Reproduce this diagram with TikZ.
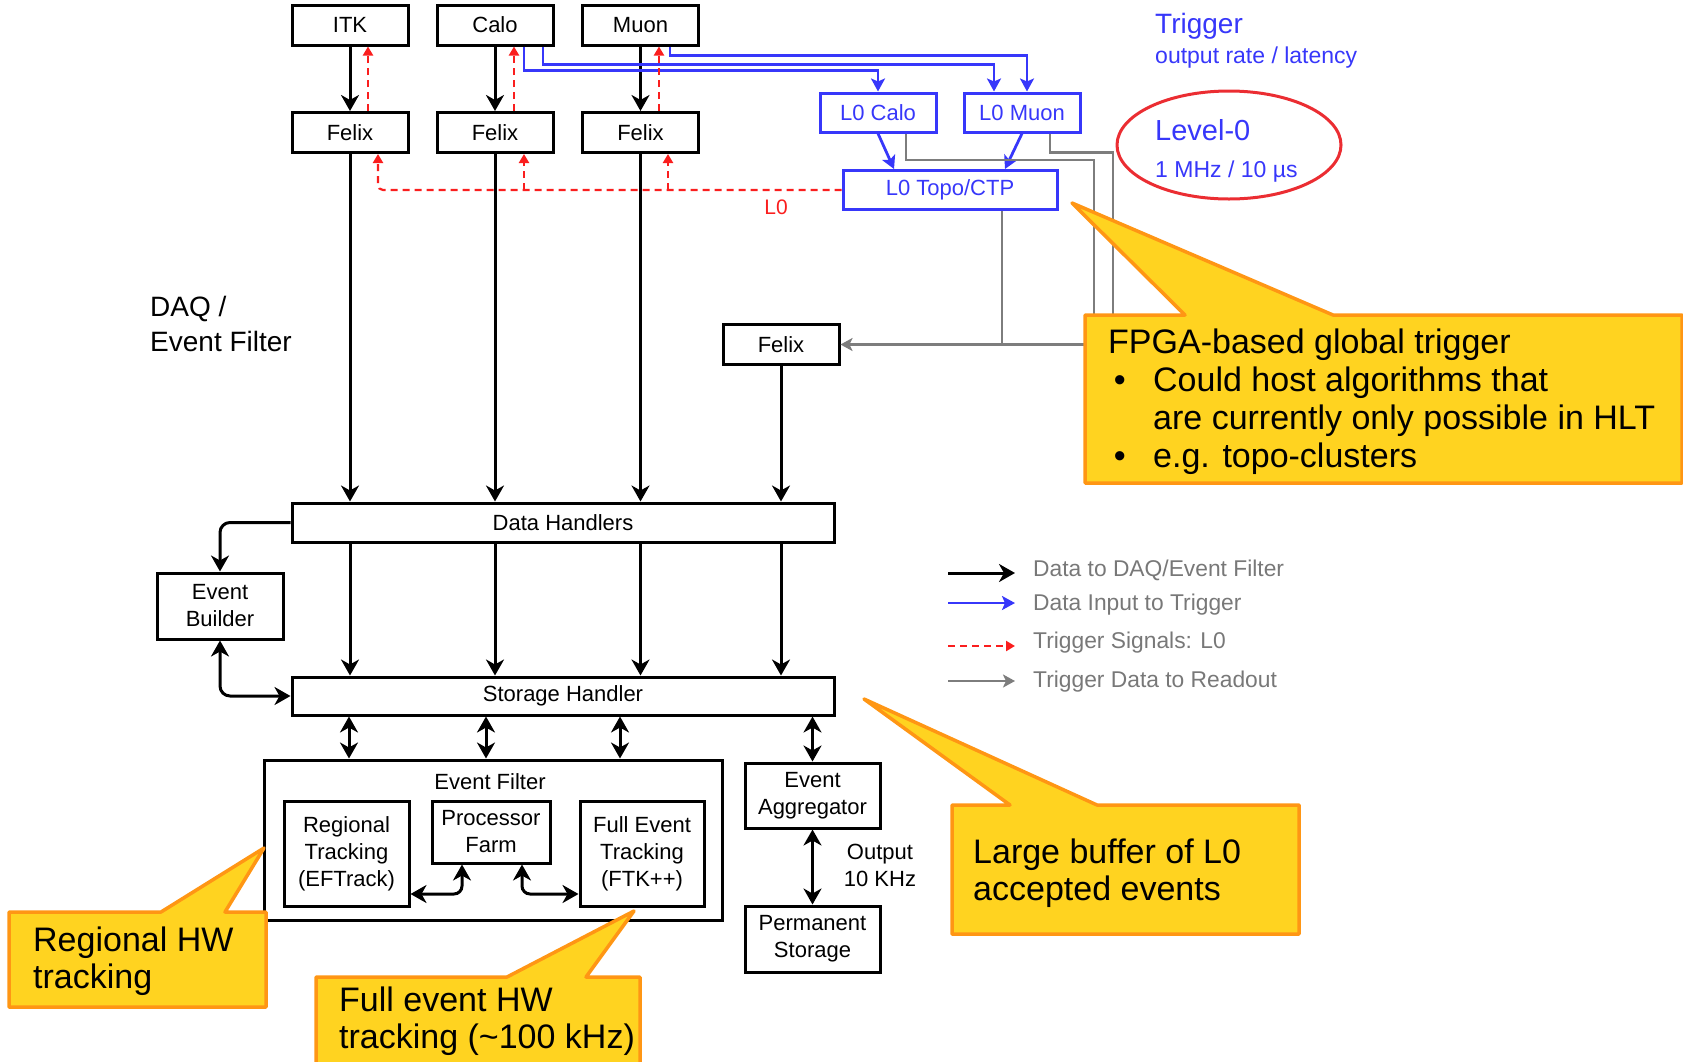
\documentclass[tikz,border=0pt]{standalone}
\usepackage{fontspec}
\setmainfont{Liberation Sans}
\usetikzlibrary{arrows.meta}

\definecolor{trgblue}{RGB}{55,55,250}
\definecolor{sigred}{RGB}{250,30,30}
\definecolor{rdgray}{RGB}{125,125,125}
\definecolor{legray}{RGB}{120,120,120}
\definecolor{callfill}{RGB}{255,211,32}
\definecolor{callline}{RGB}{255,150,20}
\definecolor{ringred}{RGB}{235,45,50}

\newcommand\bxfont{\fontsize{22}{27}\selectfont}
\newcommand\cofont{\fontsize{34}{37}\selectfont}

\tikzset{
  blk/.style={draw, line width=3pt, inner sep=0pt, align=center, font=\bxfont},
  det/.style={blk, minimum width=116pt, minimum height=40pt},
  trg/.style={draw=trgblue, text=trgblue, line width=3pt, inner sep=0pt, minimum height=39pt, font=\bxfont},
  daq/.style={line width=3pt, >={Stealth[length=16pt,width=18pt,inset=5pt]}, ->},
  daqboth/.style={daq, <->},
  feed/.style={trgblue, line width=2.8pt, >={Stealth[length=13pt,width=14pt,inset=3pt]}, ->},
  l0sig/.style={sigred, line width=2.2pt, dash pattern=on 7pt off 5pt, >={Triangle[length=9pt,width=10pt]}, ->},
  rdline/.style={rdgray, line width=2.2pt},
  rdout/.style={rdline, >={Stealth[length=12pt,width=13pt,inset=3pt]}, ->},
  callout/.style={fill=callfill, draw=callline, line width=3.5pt, line join=round},
  cotext/.style={font=\cofont, align=left, inner sep=0pt, anchor=base west},
  legtext/.style={font=\fontsize{22.8}{26}\selectfont, text=legray, inner sep=0pt, anchor=base west},
  lbl/.style={inner sep=0pt, anchor=base west},
}

\begin{document}
\begin{tikzpicture}[x=1pt,y=-1pt]  % ------ TDAQ Phase-II -----------------------------
\useasboundingbox (0,0) rectangle (1683,1061);
\clip (0,0) rectangle (1683,1061);

    \node[det] (itk)  at (350,25)   {ITK};
    \node[det] (calo) at (495,25)   {Calo};
    \node[det] (muon) at (640.5,25) {Muon};
    \node[det] (felixI) at (350,132.5)   {Felix};
    \node[det] (felixC) at (495,132.5)   {Felix};
    \node[det] (felixM) at (640.5,132.5) {Felix};
    \node[det] (felixR) at (781,344.5)   {Felix};

    \node[trg, minimum width=116pt] (l0calo) at (878,112.5)  {L0 Calo};
    \node[trg, minimum width=116pt] (l0muon) at (1022,112.5) {L0 Muon};
    \node[trg, minimum width=214pt] (topo)   at (950,190)    {L0 Topo/CTP};

    \node[blk, minimum width=542pt, minimum height=39pt] (dh) at (563,522.5) {Data Handlers};
    \node[blk, minimum width=542pt, minimum height=38pt] (sh) at (563,696)   {Storage Handler};
    \node[blk, minimum width=126pt, minimum height=66pt] (evb) at (220,606)  {Event\\Builder};

    \node[blk, minimum width=458pt, minimum height=160pt] (ef) at (493,840) {};
    \node[font=\bxfont] (eflbl) at (490,782) {Event Filter};
    \node[blk, minimum width=125pt, minimum height=105pt] (reg)  at (346.5,853.5) {Regional\\Tracking\\(EFTrack)};
    \node[blk, minimum width=118pt, minimum height=62pt]  (farm) at (491,832)     {Processor\\Farm};
    \node[blk, minimum width=124pt, minimum height=105pt] (fet)  at (642,853.5)   {Full Event\\Tracking\\(FTK++)};
    \node[blk, minimum width=135pt, minimum height=65pt]  (agg)  at (812.5,795.5) {Event\\Aggregator};
    \node[blk, minimum width=135pt, minimum height=66pt]  (perm) at (812.5,939)   {Permanent\\Storage};
    \node[font=\bxfont, align=center] (outlbl) at (880,865) {Output\\10 KHz};

% readout path
    \draw[daq] (itk) -- (felixI); \draw[daq] (calo) -- (felixC); \draw[daq] (muon) -- (felixM);
    \draw[daq] (felixI) -- (felixI |- dh.north); \draw[daq] (felixC) -- (felixC |- dh.north);
    \draw[daq] (felixM) -- (felixM |- dh.north); \draw[daq] (felixR) -- (felixR |- dh.north);
    \draw[daq] (dh.south -| felixI) -- (sh.north -| felixI); \draw[daq] (dh.south -| felixC) -- (sh.north -| felixC);
    \draw[daq] (dh.south -| felixM) -- (sh.north -| felixM); \draw[daq] (dh.south -| felixR) -- (sh.north -| felixR);

    \coordinate (colA) at (349,0);
    \coordinate (colB) at (486,0);
    \coordinate (colC) at (620,0);
    \draw[daqboth] (sh.south -| colA) -- (ef.north -| colA); \draw[daqboth] (sh.south -| colB) -- (ef.north -| colB);
    \draw[daqboth] (sh.south -| colC) -- (ef.north -| colC); \draw[daqboth] (sh.south -| agg) -- (agg);
    \draw[daqboth] (agg) -- (perm);

    \draw[daq, rounded corners=10pt] (dh.west) -| (evb.north);
    \draw[daqboth, rounded corners=10pt] (evb.south) |- (sh.west);
    \draw[daqboth, rounded corners=8pt] ([yshift=-40.5pt]reg.east) -| ([xshift=-29pt]farm.south);
    \draw[daqboth, rounded corners=8pt] ([xshift=31pt]farm.south) |- ([yshift=-40.5pt]fet.west);

% trigger inputs
    \draw[feed] ([xshift=29pt]calo.south) -- ++(0,24) -| (l0calo.north);
    \draw[feed] ([xshift=48pt]calo.south) -- ++(0,18) -| ([xshift=-28pt]l0muon.north);
    \draw[feed] ([xshift=29.5pt]muon.south) -- ++(0,9) -| ([xshift=5pt]l0muon.north);
    \draw[feed] (l0calo.south) -- ([xshift=-56pt]topo.north);
    \draw[feed] (l0muon.south) -- ([xshift=55pt]topo.north);

% L0 accept
    \coordinate (l0I) at (378,0);
    \coordinate (l0C) at (524,0);
    \coordinate (l0M) at (668,0);
    \draw[l0sig, rounded corners=5pt] (topo.west) -| (felixI.south -| l0I);
    \draw[l0sig] (topo.west -| l0C) -- (felixC.south -| l0C);
    \draw[l0sig] (topo.west -| l0M) -- (felixM.south -| l0M);
    \draw[l0sig] ([xshift=18pt]felixI.north) -- ([xshift=18pt]itk.south);
    \draw[l0sig] ([xshift=19pt]felixC.north) -- ([xshift=19pt]calo.south);
    \draw[l0sig] ([xshift=18.5pt]felixM.north) -- ([xshift=18.5pt]muon.south);
    \node[text=sigred, font=\fontsize{21}{24}\selectfont] (l0lbl) at (776,207) {L0};

% trigger data to readout
    \coordinate (rbus) at (1113,344.5);
    \draw[rdline] ([xshift=28pt]l0calo.south) -- ++(0,26.5) -| ([xshift=-19pt]rbus);
    \draw[rdline] ([xshift=28pt]l0muon.south) -- ++(0,19) -| (rbus);
    \draw[rdline] ([xshift=52pt]topo.south) -- ++(0,135);
    \draw[rdout] (rbus) -- (felixR.east);

    \node[lbl, align=left, font=\fontsize{28}{35}\selectfont] (daqlbl) at (150,351) {DAQ /\\Event Filter};
    \node[lbl, text=trgblue, font=\fontsize{28}{30}\selectfont] (trglbl)   at (1155,33)  {Trigger};
    \node[lbl, text=trgblue, font=\fontsize{23}{26}\selectfont] (ratelbl)  at (1155,63)  {output rate / latency};
    \node[lbl, text=trgblue, font=\fontsize{29}{32}\selectfont] (lvl0)     at (1155,140) {Level-0};
    \node[lbl, text=trgblue, font=\fontsize{23}{26}\selectfont] (lvl0rate) at (1155,177) {1 MHz / 10 µs};
    \draw[ringred, line width=3pt] (1229,145) ellipse [x radius=112pt, y radius=54pt];

% legend
    \coordinate (lgA) at (948,573);
    \coordinate (lgB) at (948,603);
    \coordinate (lgC) at (948,646);
    \coordinate (lgD) at (948,681);
    \draw[daq] (lgA) -- ++(67,0); \draw[feed] (lgB) -- ++(67,0);
    \draw[l0sig] (lgC) -- ++(67,0); \draw[rdout] (lgD) -- ++(67,0);
    \node[legtext] (lgtA) at (1033,576) {Data to DAQ/Event Filter};
    \node[legtext] (lgtB) at (1033,610) {Data Input to Trigger};
    \node[legtext] (lgtC) at (1033,648) {Trigger Signals: L0};
    \node[legtext] (lgtD) at (1033,687) {Trigger Data to Readout};

% callouts
    \draw[callout] (1085,315) -- (1185,315) -- (1072,203) -- (1333,315) -- (1682,315) -- (1682,483) -- (1085,483) -- cycle;
    \node[cotext, font=\fontsize{34}{38}\selectfont] (fpgaTxt) at (1108,467)
      {FPGA-based global trigger\\\makebox[45pt][l]{\,•}Could host algorithms that\\\hspace*{45pt}are currently only possible in HLT\\\makebox[45pt][l]{\,•}e.g. topo-clusters};
    \draw[callout] (952,805) -- (1010,805) -- (864,699) -- (1097,805) -- (1299,805) -- (1299,934) -- (952,934) -- cycle;
    \node[cotext] (bufTxt) at (973,900) {Large buffer of L0\\accepted events};
    \draw[callout] (9,912) -- (161,912) -- (264,848) -- (225,912) -- (266,912) -- (266,1007) -- (9,1007) -- cycle;
    \node[cotext] (regTxt) at (33,988) {Regional HW\\tracking};
    \draw[callout] (316,977) -- (507,977) -- (634,911) -- (586,977) -- (640,977) -- (640,1080) -- (316,1080) -- cycle;
    \node[cotext] (fullTxt) at (339,1048) {Full event HW\\tracking (\textasciitilde100 kHz)};

\end{tikzpicture}
\end{document}
